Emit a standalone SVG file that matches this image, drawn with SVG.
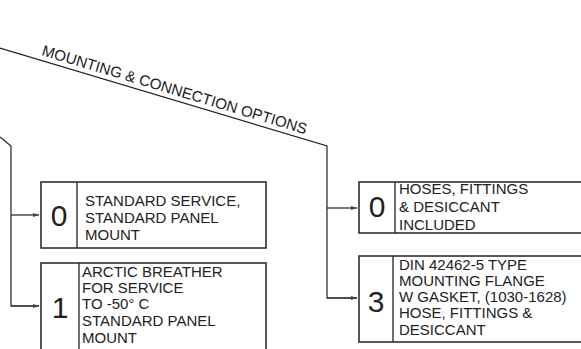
<svg xmlns="http://www.w3.org/2000/svg" width="581" height="349" viewBox="0 0 581 349">
  <defs>
    <style>
      .box { fill: #fff; stroke: #222; stroke-width: 1.5; }
      .div { stroke: #222; stroke-width: 1.3; fill: none; }
      .conn { stroke: #222; stroke-width: 1.2; fill: none; }
      .t { font-family: "Liberation Sans", Arial, sans-serif; font-size: 15px; fill: #222; }
      .d { font-family: "Liberation Sans", Arial, sans-serif; font-size: 30px; fill: #222; text-anchor: middle; }
      .lbl { font-family: "Liberation Sans", Arial, sans-serif; font-size: 15.2px; fill: #222; }
    </style>
    <marker id="arr" viewBox="0 0 6 6" refX="6" refY="3" markerWidth="6" markerHeight="6" markerUnits="userSpaceOnUse" orient="auto">
      <path d="M0,1 L6,3 L0,5 Z" fill="#444"/>
    </marker>
  </defs>

  <g id="connectors">
    <polyline class="conn" points="0,48 327,146 327,298 357,298"/>
    <line class="conn" x1="327" y1="208" x2="357" y2="208" marker-end="url(#arr)"/>
    <line class="conn" x1="327" y1="298" x2="357" y2="298" marker-end="url(#arr)"/>
    <polyline class="conn" points="0,137 11,146 11,306 39,306"/>
    <line class="conn" x1="11" y1="215" x2="39" y2="215" marker-end="url(#arr)"/>
    <line class="conn" x1="11" y1="306" x2="39" y2="306" marker-end="url(#arr)"/>
    <text class="lbl" transform="translate(41,55) rotate(16.7)">MOUNTING &amp; CONNECTION OPTIONS</text>
  </g>

  <g id="node-left-0">
    <rect class="box" x="41" y="182" width="225" height="66"/>
    <line class="div" x1="77" y1="182" x2="77" y2="248"/>
    <text class="d" x="59" y="226">0</text>
    <text class="t" x="85" y="206">STANDARD SERVICE,</text>
    <text class="t" x="85" y="223">STANDARD PANEL</text>
    <text class="t" x="85" y="240">MOUNT</text>
  </g>

  <g id="node-left-1">
    <rect class="box" x="41" y="263" width="225" height="100"/>
    <line class="div" x1="79" y1="263" x2="79" y2="363"/>
    <text class="d" x="60" y="318">1</text>
    <text class="t" x="82" y="277">ARCTIC BREATHER</text>
    <text class="t" x="82" y="293">FOR SERVICE</text>
    <text class="t" x="82" y="309">TO -50° C</text>
    <text class="t" x="82" y="326">STANDARD PANEL</text>
    <text class="t" x="82" y="343">MOUNT</text>
  </g>

  <g id="node-right-0">
    <rect class="box" x="359" y="182" width="240" height="51"/>
    <line class="div" x1="395" y1="182" x2="395" y2="233"/>
    <text class="d" x="377" y="217">0</text>
    <text class="t" x="399" y="194">HOSES, FITTINGS</text>
    <text class="t" x="399" y="212">&amp; DESICCANT</text>
    <text class="t" x="399" y="230">INCLUDED</text>
  </g>

  <g id="node-right-3">
    <rect class="box" x="359" y="256" width="240" height="86"/>
    <line class="div" x1="393" y1="256" x2="393" y2="342"/>
    <text class="d" x="376" y="312">3</text>
    <text class="t" x="399" y="270">DIN 42462-5 TYPE</text>
    <text class="t" x="399" y="286">MOUNTING FLANGE</text>
    <text class="t" x="399" y="302">W GASKET, (1030-1628)</text>
    <text class="t" x="399" y="318">HOSE, FITTINGS &amp;</text>
    <text class="t" x="399" y="335">DESICCANT</text>
  </g>
</svg>
